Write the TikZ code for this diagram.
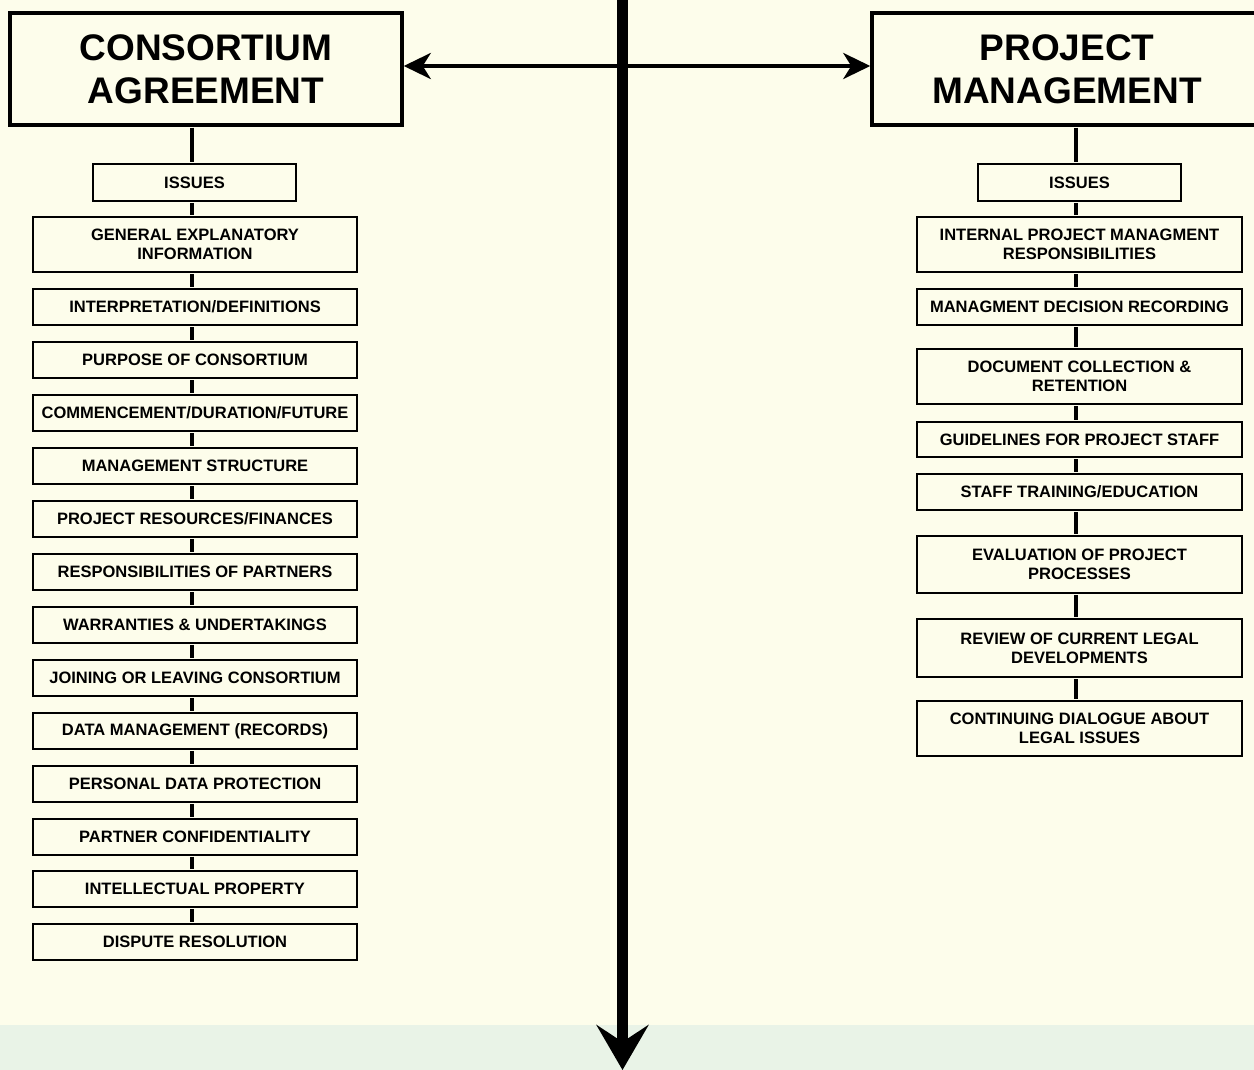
\documentclass[tikz,border=0pt]{standalone}
\usepackage{fontspec}
\setmainfont{Liberation Sans}
\usetikzlibrary{arrows.meta}
\definecolor{bgcream}{HTML}{FDFDEB}
\definecolor{bggreen}{HTML}{E9F3E7}
\begin{document}
\begin{tikzpicture}[x=1pt,y=-1pt,
  titlebox/.style={draw, line width=3.5pt, fill=bgcream, minimum width=392pt, minimum height=112pt, align=center, inner sep=0pt, font=\fontsize{37}{43}\selectfont\bfseries},
  itembox/.style={draw, line width=2pt, fill=bgcream, minimum width=324pt, minimum height=36pt, align=center, inner sep=0pt, font=\fontsize{16.5}{19}\selectfont\bfseries},
  issuebox/.style={itembox, minimum width=203pt, minimum height=37pt},
  stem/.style={line width=4.5pt},
  bigtip/.style={-{Stealth[length=45pt,width=52pt,inset=17pt]}},
  smalltip/.style={{Stealth[length=27pt,width=26pt,inset=8pt]}-{Stealth[length=27pt,width=26pt,inset=8pt]}}
]
\fill[bgcream] (0,0) rectangle (1254,1025);
\fill[bggreen] (0,1025) rectangle (1254,1070);
\useasboundingbox (0,0) rectangle (1254,1070);

% title boxes
\node[titlebox] (ca) at (206,69) {CONSORTIUM\\AGREEMENT};
\node[titlebox, minimum width=390pt] (pm) at (1067,69) {PROJECT\\MANAGEMENT};

% horizontal double arrow
\draw[line width=4pt, smalltip] ([yshift=3pt]ca.east) -- ([yshift=3pt]pm.west);

% central axis
\coordinate (top) at (622.5,-5);
\coordinate (bot) at (622.5,1070);
\draw[line width=11pt, bigtip] (top) -- (bot);

% stem coordinates
\coordinate (sl) at (192,0);
\coordinate (sr) at (1076,0);

% left column
\node[issuebox] (iL) at (194.5,182.5) {ISSUES};
\node[itembox, minimum height=55pt] (l1) at (195,244.5) {GENERAL EXPLANATORY\\INFORMATION};
\node[itembox] (l2) at (195,307) {INTERPRETATION/DEFINITIONS};
\node[itembox] (l3) at (195,360) {PURPOSE OF CONSORTIUM};
\node[itembox] (l4) at (195,413) {COMMENCEMENT/DURATION/FUTURE};
\node[itembox] (l5) at (195,466) {MANAGEMENT STRUCTURE};
\node[itembox] (l6) at (195,519) {PROJECT RESOURCES/FINANCES};
\node[itembox] (l7) at (195,572) {RESPONSIBILITIES OF PARTNERS};
\node[itembox] (l8) at (195,625) {WARRANTIES \& UNDERTAKINGS};
\node[itembox] (l9) at (195,678) {JOINING OR LEAVING CONSORTIUM};
\node[itembox] (l10) at (195,731) {DATA MANAGEMENT (RECORDS)};
\node[itembox] (l11) at (195,784) {PERSONAL DATA PROTECTION};
\node[itembox] (l12) at (195,836.5) {PARTNER CONFIDENTIALITY};
\node[itembox] (l13) at (195,889) {INTELLECTUAL PROPERTY};
\node[itembox] (l14) at (195,942) {DISPUTE RESOLUTION};

% right column
\node[issuebox] (iR) at (1079.5,182.5) {ISSUES};
\node[itembox, minimum width=325pt, minimum height=55pt] (r1) at (1079.5,244.5) {INTERNAL PROJECT MANAGMENT\\RESPONSIBILITIES};
\node[itembox, minimum width=325pt] (r2) at (1079.5,307) {MANAGMENT DECISION RECORDING};
\node[itembox, minimum width=325pt, minimum height=55pt] (r3) at (1079.5,376.5) {DOCUMENT COLLECTION \&\\RETENTION};
\node[itembox, minimum width=325pt, minimum height=35pt] (r4) at (1079.5,439.5) {GUIDELINES FOR PROJECT STAFF};
\node[itembox, minimum width=325pt] (r5) at (1079.5,492) {STAFF TRAINING/EDUCATION};
\node[itembox, minimum width=325pt, minimum height=57pt] (r6) at (1079.5,564.5) {EVALUATION OF PROJECT\\PROCESSES};
\node[itembox, minimum width=325pt, minimum height=58pt] (r7) at (1079.5,648) {REVIEW OF CURRENT LEGAL\\DEVELOPMENTS};
\node[itembox, minimum width=325pt, minimum height=55pt] (r8) at (1079.5,728.5) {CONTINUING DIALOGUE ABOUT\\LEGAL ISSUES};

% stems
\foreach \a/\b in {ca/iL,iL/l1,l1/l2,l2/l3,l3/l4,l4/l5,l5/l6,l6/l7,l7/l8,l8/l9,l9/l10,l10/l11,l11/l12,l12/l13,l13/l14}
  \draw[stem] ([yshift=-1pt]\a.south -| sl) -- ([yshift=1pt]\b.north -| sl);
\foreach \a/\b in {pm/iR,iR/r1,r1/r2,r2/r3,r3/r4,r4/r5,r5/r6,r6/r7,r7/r8}
  \draw[stem] ([yshift=-1pt]\a.south -| sr) -- ([yshift=1pt]\b.north -| sr);
\end{tikzpicture}
\end{document}
